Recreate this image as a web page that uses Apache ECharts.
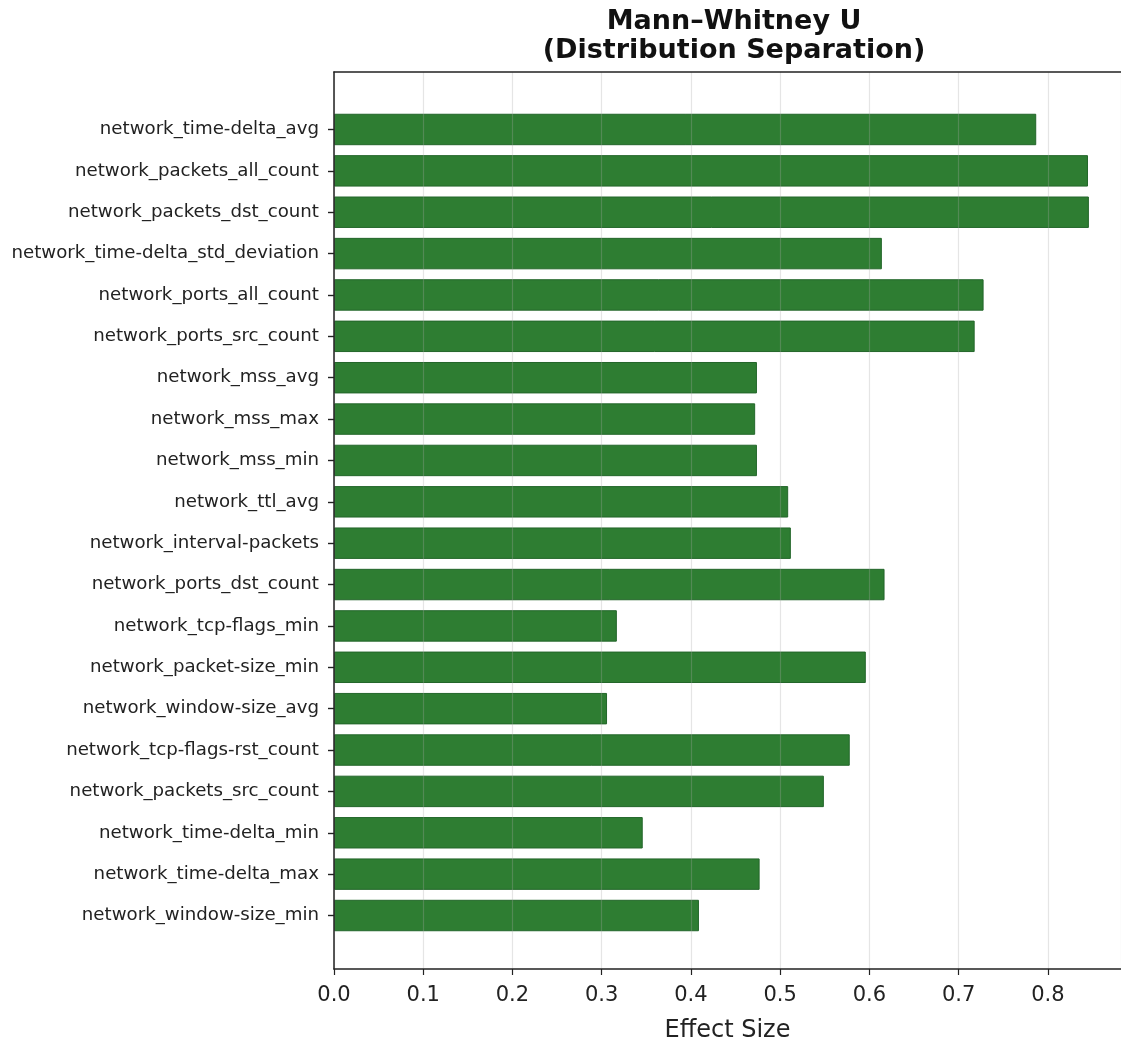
<!DOCTYPE html>
<html>
<head>
<meta charset="utf-8">
<title>Mann–Whitney U effect sizes</title>
<script src="https://cdn.jsdelivr.net/npm/echarts@6/dist/echarts.min.js"></script>
<style>
  html, body { margin: 0; padding: 0; background: #ffffff; }
  #chart { width: 1121px; height: 1048px; }
</style>
</head>
<body>
<div id="chart"></div>
<script>
// Features, listed top to bottom
const features = [
  'network_time-delta_avg',
  'network_packets_all_count',
  'network_packets_dst_count',
  'network_time-delta_std_deviation',
  'network_ports_all_count',
  'network_ports_src_count',
  'network_mss_avg',
  'network_mss_max',
  'network_mss_min',
  'network_ttl_avg',
  'network_interval-packets',
  'network_ports_dst_count',
  'network_tcp-flags_min',
  'network_packet-size_min',
  'network_window-size_avg',
  'network_tcp-flags-rst_count',
  'network_packets_src_count',
  'network_time-delta_min',
  'network_time-delta_max',
  'network_window-size_min'
];

// Mann–Whitney U effect size per feature
const effectSizes = [
  0.787, 0.845, 0.846, 0.614, 0.728, 0.718, 0.474, 0.472, 0.474, 0.509,
  0.512, 0.617, 0.317, 0.596, 0.306, 0.578, 0.549, 0.346, 0.477, 0.409
];

// x axis range and step
const xMin = 0;
const xMax = 0.882;
const xStep = 0.1;

const FONT = '"DejaVu Sans", sans-serif';
const INK = '#222222';

const chart = echarts.init(document.getElementById('chart'), null, { renderer: 'canvas' });

const option = {
  backgroundColor: '#ffffff',
  animation: false,
  title: {
    text: 'Mann–Whitney U\n(Distribution Separation)',
    left: 729,
    top: 2,
    textAlign: 'center',
    textStyle: {
      fontFamily: FONT,
      fontWeight: 'bold',
      fontSize: 27,
      lineHeight: 29,
      color: '#111111'
    }
  },
  grid: [
    // frame, value ticks and grid lines
    { left: 334, right: 0, top: 72, bottom: 75, containLabel: false },
    // bars and feature labels (inset to leave matplotlib-style margins)
    { left: 334, right: 0, top: 108.8, bottom: 111.8, containLabel: false }
  ],
  xAxis: [
    {
      gridIndex: 0,
      type: 'value',
      min: xMin,
      max: xMax,
      interval: xStep,
      position: 'bottom',
      z: 5,
      name: 'Effect Size',
      nameLocation: 'middle',
      nameGap: 50,
      nameTextStyle: { fontFamily: FONT, fontSize: 24, color: INK },
      axisLine: { show: true, onZero: false, lineStyle: { color: INK, width: 1.5 } },
      axisTick: { show: true, inside: false, length: 6, lineStyle: { color: INK, width: 1.2 } },
      axisLabel: {
        show: true,
        margin: 16,
        fontFamily: FONT,
        fontSize: 21,
        color: INK,
        formatter: v => v.toFixed(1),
        showMaxLabel: false
      },
      splitLine: { show: true, lineStyle: { color: 'rgba(170,170,170,0.3)', width: 1.2 } }
    },
    {
      // top spine
      gridIndex: 0,
      type: 'value',
      min: xMin,
      max: xMax,
      position: 'top',
      z: 5,
      axisLine: { show: true, onZero: false, lineStyle: { color: INK, width: 1.5 } },
      axisTick: { show: false },
      axisLabel: { show: false },
      splitLine: { show: false }
    },
    {
      gridIndex: 1,
      type: 'value',
      min: xMin,
      max: xMax,
      show: false
    }
  ],
  yAxis: [
    {
      // left spine
      gridIndex: 0,
      type: 'value',
      min: 0,
      max: 1,
      z: 5,
      axisLine: { show: true, onZero: false, lineStyle: { color: INK, width: 1.5 } },
      axisTick: { show: false },
      axisLabel: { show: false },
      splitLine: { show: false }
    },
    {
      gridIndex: 1,
      type: 'category',
      inverse: true,
      data: features,
      axisLine: { show: false },
      axisTick: { show: true, alignWithLabel: true, length: 6, lineStyle: { color: INK, width: 1.4 } },
      axisLabel: {
        margin: 15,
        fontFamily: FONT,
        fontSize: 18.2,
        color: INK
      },
      splitLine: { show: false }
    }
  ],
  series: [
    {
      type: 'bar',
      xAxisIndex: 2,
      yAxisIndex: 1,
      data: effectSizes,
      barCategoryGap: '24%',
      itemStyle: {
        color: '#2e7d32',
        borderColor: '#23662a',
        borderWidth: 1
      },
      z: 2
    }
  ]
};

chart.setOption(option);
</script>
</body>
</html>
